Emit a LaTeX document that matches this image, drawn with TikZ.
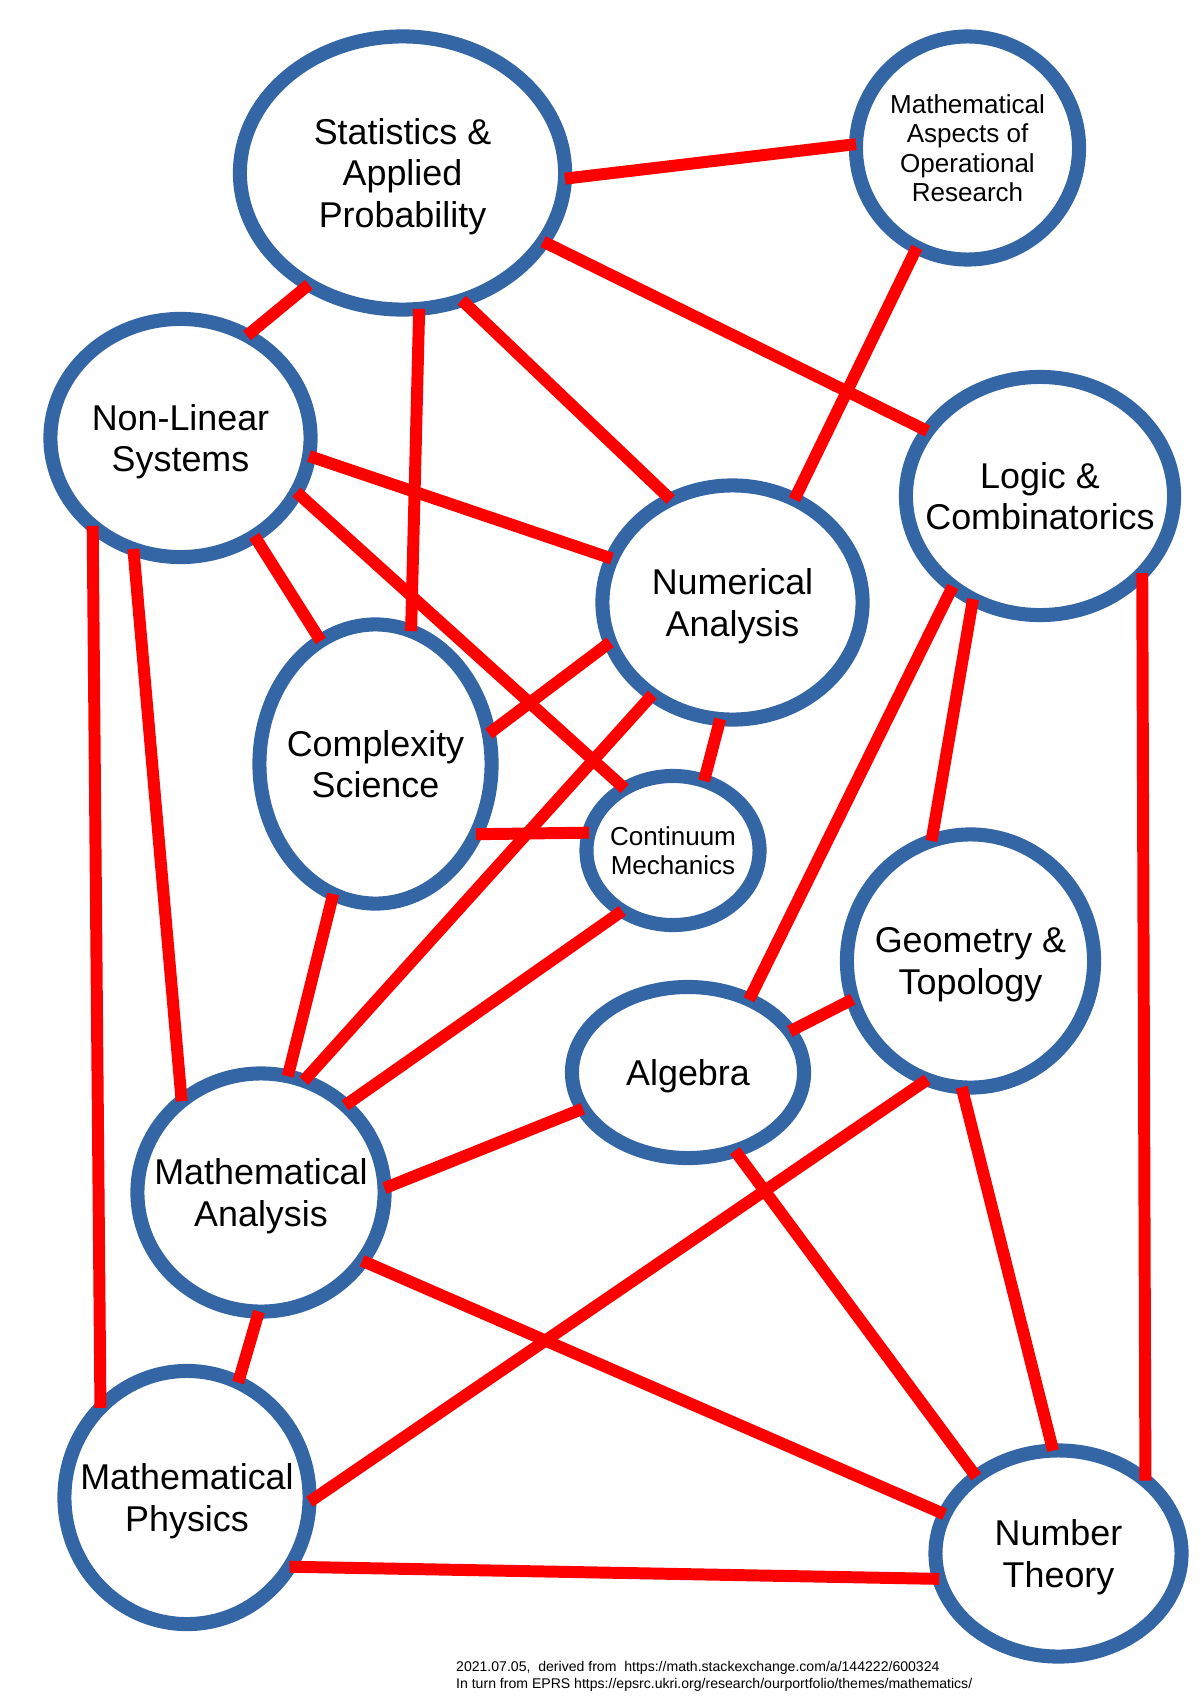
\documentclass[tikz,border=0pt]{standalone}
\usepackage{fontspec}
\setmainfont{Liberation Sans}
\usetikzlibrary{shapes.geometric}

\definecolor{ringblue}{HTML}{3465A4}

\begin{document}
\begin{tikzpicture}[x=0.01cm,y=-0.01cm,
    area/.style={ellipse, draw=ringblue, line width=4pt, fill=white, inner sep=0pt, outer sep=0pt},
    big/.style={align=center, text depth=0pt, font=\fontsize{10.2}{11.8}\selectfont},
    small/.style={align=center, text depth=0pt, font=\fontsize{7.4}{8.3}\selectfont},
    link/.style={red, line width=3.4pt},
]

    \useasboundingbox (0,0) rectangle (1200,1697);

    % topics
    \node[area, minimum width=3.25cm, minimum height=2.73cm,
        label={[big]center:{Statistics \&\\Applied\\Probability}}] (stats) at (402.5,173) {};
    \node[area, minimum width=2.23cm, minimum height=2.23cm,
        label={[small]center:{Mathematical\\Aspects of\\Operational\\Research}}] (maor) at (967.5,148) {};
    \node[area, minimum width=2.60cm, minimum height=2.38cm,
        label={[big]center:{Non-Linear\\Systems}}] (nls) at (180.5,438) {};
    \node[area, minimum width=2.68cm, minimum height=2.38cm,
        label={[big]center:{Logic \&\\Combinatorics}}] (logic) at (1040,496) {};
    \node[area, minimum width=2.60cm, minimum height=2.34cm,
        label={[big]center:{Numerical\\Analysis}}] (num) at (732.5,602.5) {};
    \node[area, minimum width=2.32cm, minimum height=2.79cm,
        label={[big]center:{Complexity\\Science}}] (cplx) at (375.5,764) {};
    \node[area, minimum width=1.73cm, minimum height=1.49cm,
        label={[small]center:{Continuum\\Mechanics}}] (cont) at (673,850.5) {};
    \node[area, minimum width=2.47cm, minimum height=2.53cm,
        label={[big]center:{Geometry \&\\Topology}}] (geo) at (970.5,961) {};
    \node[area, minimum width=2.32cm, minimum height=1.71cm,
        label={[big]center:{Algebra}}] (alg) at (688,1072.5) {};
    \node[area, minimum width=2.47cm, minimum height=2.38cm,
        label={[big]center:{Mathematical\\Analysis}}] (man) at (261,1192.5) {};
    \node[area, minimum width=2.45cm, minimum height=2.53cm,
        label={[big]center:{Mathematical\\Physics}}] (mph) at (187,1497.5) {};
    \node[area, minimum width=2.46cm, minimum height=2.06cm,
        label={[big]center:{Number\\Theory}}] (nt) at (1058.5,1553.5) {};

    % links
    \draw[link] (stats.-2) -- (maor.178);
    \draw[link] (stats.230) -- (nls.57);
    \draw[link] (stats.277) -- (cplx.75);
    \draw[link] (stats.295) -- (num.121);
    \draw[link] (stats.334) -- (logic.150);
    \draw[link] (maor.243) -- (num.59);
    \draw[link] (nls.352) -- (num.160);
    \draw[link] (nls.307.5) -- (cplx.114);
    \draw[link] (nls.335) -- (cont.128);
    \draw[link] (nls.225.4) -- (mph.134);
    \draw[link] (nls.247) -- (man.131);
    \draw[link] (num.198.4) -- (cplx.15);
    \draw[link] (num.229.7) -- (man.69.4);
    \draw[link] (num.264) -- (cont.66.4);
    \draw[link] (cplx.325.4) -- (cont.168.4);
    \draw[link] (cplx.252) -- (man.77.9);
    \draw[link] (cont.230.3) -- (man.46.5);
    \draw[link] (logic.226) -- (alg.50.7);
    \draw[link] (logic.237.5) -- (geo.108.3);
    \draw[link] (logic.323.3) -- (nt.40.1);
    \draw[link] (geo.198.3) -- (alg.22.9);
    \draw[link] (geo.250.3) -- (mph.358);
    \draw[link] (geo.266.7) -- (nt.93.5);
    \draw[link] (alg.199.5) -- (man.2.1);
    \draw[link] (alg.301.3) -- (nt.137.7);
    \draw[link] (man.326.6) -- (nt.161.6);
    \draw[link] (man.269.5) -- (mph.66.4);
    \draw[link] (mph.326.4) -- (nt.192.6);

    % source note
    \node[anchor=north west, align=left, inner sep=0pt,
        font=\fontsize{4}{4.6}\selectfont] (note) at (455.5,1661)
        {2021.07.05,\ \ derived from\ \ https://math.stackexchange.com/a/144222/600324\\
         In turn from EPRS https://epsrc.ukri.org/research/ourportfolio/themes/mathematics/};

\end{tikzpicture}
\end{document}
